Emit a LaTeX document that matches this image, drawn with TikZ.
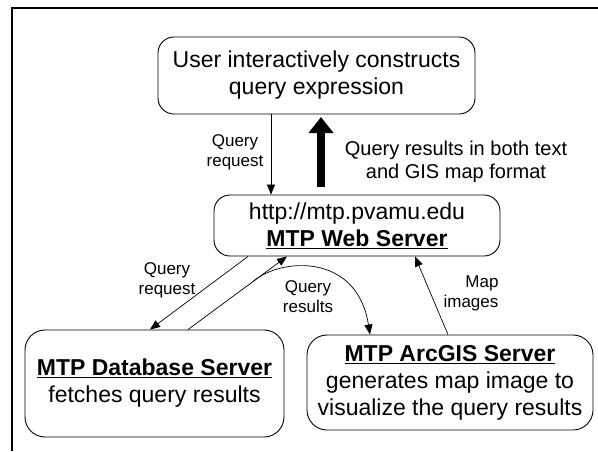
\documentclass[tikz,border=0pt]{standalone}
\usepackage{fontspec}
\setmainfont{Liberation Sans}
\usetikzlibrary{arrows.meta,calc}
\tikzset{
  box/.style={draw, line width=0.9pt, rounded corners=16pt, align=center, inner sep=0pt,
    font=\fontsize{23}{27}\selectfont},
  lab/.style={align=center, inner sep=0pt, font=\fontsize{17}{20}\selectfont},
  biglab/.style={align=center, inner sep=0pt, font=\fontsize{20}{23}\selectfont},
  arr/.style={line width=0.7pt, -{Triangle[length=10pt,width=8pt]}},
  thickarr/.style={line width=8pt, -{Triangle[length=16pt,width=24pt]}},
  frame/.style={line width=2.6pt}
}
\newcommand{\ubf}[1]{\underline{\textbf{#1}}}
\begin{document}
\begin{tikzpicture}[x=1pt,y=-1pt]
\useasboundingbox (0,0) rectangle (598,451);
\coordinate (fbl) at (12,451);
\coordinate (ftl) at (12,8);
\coordinate (ftr) at (598,8);
\draw[frame] (fbl) -- (ftl) -- (ftr);

\node[box, minimum width=317pt, minimum height=77pt] (user) at (316.5,75.5)
  {User interactively constructs\\query expression};
\node[box, minimum width=286pt, minimum height=61pt] (web) at (357,225.5)
  {http://mtp.pvamu.edu\\\ubf{MTP Web Server}};
\node[box, rounded corners=20pt, minimum width=259pt, minimum height=107pt] (db) at (154.5,383.5)
  {\ubf{MTP Database Server}\\fetches query results};
\node[box, rounded corners=20pt, minimum width=286pt, minimum height=95pt] (arc) at (450,382.5)
  {\ubf{MTP ArcGIS Server}\\generates map image to\\visualize the query results};

% x positions of connectors
\coordinate (x1) at (271,0);
\coordinate (x2) at (248,0);
\coordinate (x3) at (150,0);
\coordinate (x4) at (188,0);
\coordinate (x5) at (287,0);
\coordinate (x6) at (448,0);
\coordinate (x7) at (415,0);
\coordinate (x8) at (370,0);

\draw[arr] (user.south -| x1) -- (web.north -| x1);
\draw[arr] (web.south -| x2) -- (db.north -| x3);
\draw[arr] (db.north -| x4) -- (web.south -| x5);
\coordinate (branch) at ($(db.north -| x4)!0.66!(web.south -| x5)$);
\draw[arr] (branch) .. controls (280,258) and (357,252) .. (arc.north -| x8);
\draw[arr] (arc.north -| x6) -- (web.south -| x7);

\coordinate (tb) at (321,187);
\coordinate (tt) at (321,117);
\draw[thickarr] (tb) -- (tt);

\node[lab] (lq1) at (235,152) {Query\\request};
\node[biglab] (lres) at (456,162) {Query results in both text\\and GIS map format};
\node[lab] (lq2) at (167,280) {Query\\request};
\node[lab] (lqr) at (308,297) {Query\\results};
\node[lab] (lmap) at (471,293) {\hspace*{22pt}Map\\images};
\end{tikzpicture}
\end{document}
